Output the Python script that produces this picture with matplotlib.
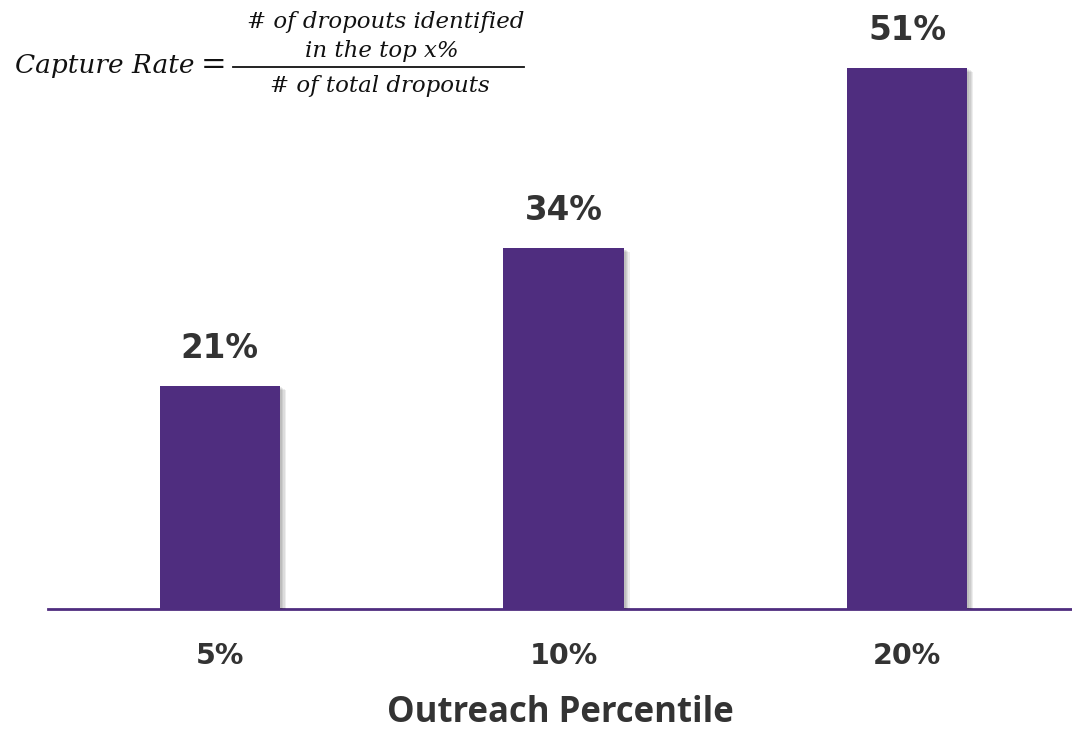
import matplotlib
matplotlib.use("Agg")
import matplotlib.pyplot as plt
import matplotlib.patheffects as pe
from matplotlib.lines import Line2D

categories = ["5%", "10%", "20%"]
capture_rate = [21, 34, 51]
value_labels = ["21%", "34%", "51%"]

bar_color = "#4f2d7f"
text_color = "#333333"
num_font = "DejaVu Sans"
title_font = "Open Sans"

fig = plt.figure(figsize=(10.72, 7.30), dpi=100)
ax = fig.add_axes([48 / 1072, 121 / 730, 1 - 48 / 1072, 609 / 730])

x = range(len(categories))
bars = ax.bar(x, capture_rate, width=0.35, color=bar_color, zorder=3)

# soft drop shadow built from a few faint offset copies
shadow = [pe.SimplePatchShadow(offset=(d, -d * 0.6), shadow_rgbFace="#000000", alpha=0.07)
          for d in (1.5, 2.5, 3.5, 4.5)]
for b in bars:
    b.set_path_effects(shadow + [pe.Normal()])

for xi, v, lab in zip(x, capture_rate, value_labels):
    ax.annotate(lab, (xi, v), xytext=(0, 15), textcoords="offset points",
                ha="center", va="bottom", fontsize=23.5, fontweight="bold",
                color=text_color, family=num_font)

ax.set_xlim(-0.5, 2.48)
ax.set_ylim(0, 57.4)
ax.set_xticks(list(x))
ax.set_xticklabels(categories, fontsize=20.5, fontweight="bold", color=text_color, family=num_font)
ax.tick_params(axis="x", length=0, pad=24)
ax.set_yticks([])
for s in ["top", "right", "left"]:
    ax.spines[s].set_visible(False)
ax.spines["bottom"].set_color(bar_color)
ax.spines["bottom"].set_linewidth(2)
ax.set_xlabel("Outreach Percentile", fontsize=25, fontweight="bold",
              color=text_color, family=title_font, labelpad=18)

# Capture-rate definition
serif = "DejaVu Serif"
ink = "#111111"
fig.text(15 / 1072, 1 - 66 / 730, "Capture Rate", fontsize=19, style="italic",
         family=serif, va="center", ha="left", color=ink)
fig.text(214 / 1072, 1 - 66 / 730, "=", fontsize=22, family=serif,
         va="center", ha="center", color=ink)
fig.add_artist(Line2D([233 / 1072, 524 / 1072], [1 - 67 / 730, 1 - 67 / 730],
                      transform=fig.transFigure, color=ink, lw=1.3))
fig.text(386 / 1072, 1 - 22 / 730, "# of dropouts identified", fontsize=16.5,
         style="italic", family=serif, va="center", ha="center", color=ink)
fig.text(382 / 1072, 1 - 51 / 730, "in the top x%", fontsize=16.5,
         style="italic", family=serif, va="center", ha="center", color=ink)
fig.text(380 / 1072, 1 - 86 / 730, "# of total dropouts", fontsize=16.5,
         style="italic", family=serif, va="center", ha="center", color=ink)

fig.savefig("out.png", dpi=100, facecolor="white")
